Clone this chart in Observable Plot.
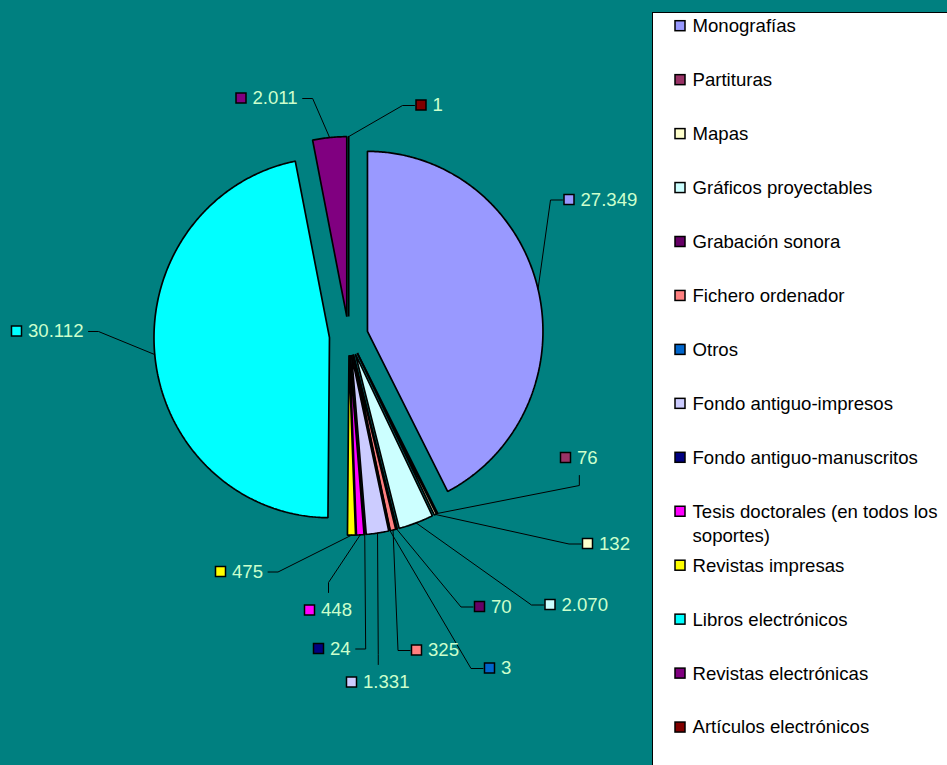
<!DOCTYPE html>
<html>
<head>
<meta charset="utf-8">
<script src="https://cdn.jsdelivr.net/npm/d3@7"></script>
<script src="https://cdn.jsdelivr.net/npm/@observablehq/plot@0.6"></script>
<style>
html, body { margin: 0; padding: 0; overflow: hidden; background: #008080; }
#chart svg { display: block; }
</style>
</head>
<body>
<div id="chart"></div>
<script>
// ---- data ----
const categories = [
  "Monografías", "Partituras", "Mapas", "Gráficos proyectables", "Grabación sonora",
  "Fichero ordenador", "Otros", "Fondo antiguo-impresos", "Fondo antiguo-manuscritos",
  "Tesis doctorales (en todos los\nsoportes)", "Revistas impresas", "Libros electrónicos",
  "Revistas electrónicas", "Artículos electrónicos"
];
const values = [27349, 76, 132, 2070, 70, 325, 3, 1331, 24, 448, 475, 30112, 2011, 1];
const colors = [
  "#9999FF", "#993366", "#FFFFCC", "#CCFFFF", "#660066",
  "#FF8080", "#0066CC", "#CCCCFF", "#000080",
  "#FF00FF", "#FFFF00", "#00FFFF",
  "#800080", "#800000"
];

// ---- label layout (swatch centre of each data label, and where its leader attaches) ----
const labelX = [569, 565.5, 587.5, 550, 479.5, 416.5, 489.5, 351.5, 318.5, 309.5, 220.5, 16.5, 241, 421];
const labelY = [199.5, 457.5, 543.5, 604.5, 606.5, 650, 668, 682, 648.5, 610, 571.5, 331, 98, 105];
const labelAttach = ["left", "bottom", "left", "left", "left", "left", "left", "top", "right", "top", "right", "right", "right", "left"];

// ---- geometry / style constants ----
const W = 947, H = 765;
const CX = 348.2, CY = 335.4, RX = 175.5, RY = 180, EXPLODE = 19.3;
const FONT = 18.6;
const FONT_FAMILY = "'Liberation Sans', Arial, Helvetica, sans-serif";
const LEGEND_BOX = {x: 652.5, y: 12.5};
const LEGEND_SWATCH_X = 680, LEGEND_TEXT_X = 692, LEGEND_Y0 = 25.7, LEGEND_STEP = 53.95;
const LEGEND_LINE_HEIGHT = 1.29;

const fmt = d3.formatLocale({decimal: ",", thousands: ".", grouping: [3], currency: ["", "€"]}).format(",d");

const arcs = d3.pie().sort(null).value(d => d)(values);

const slices = arcs.map((a, i) => {
  const mid = (a.startAngle + a.endAngle) / 2;
  const ax = CX + EXPLODE * Math.sin(mid), ay = CY - EXPLODE * Math.cos(mid);
  const span = a.endAngle - a.startAngle;
  const n = Math.max(2, Math.ceil(span / (Math.PI / 360)));
  const pts = [{x: ax, y: ay}];
  for (let k = 0; k <= n; k++) {
    const t = a.startAngle + span * k / n;
    pts.push({x: ax + RX * Math.sin(t), y: ay - RY * Math.cos(t)});
  }
  return {pts, color: colors[i], arcPt: {x: ax + RX * Math.sin(mid), y: ay - RY * Math.cos(mid)}};
});

const ctx = document.createElement("canvas").getContext("2d");
ctx.font = `${FONT}px ${FONT_FAMILY}`;

const labelData = values.map((v, i) => {
  const text = fmt(v);
  const w = ctx.measureText(text).width;
  const sx = labelX[i], sy = labelY[i];
  return {i, text, sx, sy, w, color: colors[i], left: sx - 5, right: sx + 11 + w};
});

const leaders = labelData.flatMap(d => {
  const cx = (d.left + d.right) / 2;
  let p0, p1;
  switch (labelAttach[d.i]) {
    case "left":   p0 = {x: d.sx - 7, y: d.sy};  p1 = {x: d.sx - 19, y: d.sy}; break;
    case "right":  p0 = {x: d.right + 5, y: d.sy}; p1 = {x: d.right + 15, y: d.sy}; break;
    case "top":    p0 = {x: cx, y: d.sy - 18}; p1 = {x: cx, y: d.sy - 28}; break;
    case "bottom": p0 = {x: cx, y: d.sy + 17.5}; p1 = {x: cx, y: d.sy + 27.5}; break;
  }
  return [slices[d.i].arcPt, p1, p0].map(p => ({...p, id: d.i}));
});

const legendData = categories.map((c, i) => ({
  name: c, color: colors[i], y: LEGEND_Y0 + i * LEGEND_STEP
}));
// shift so that the first line of each legend entry is centred on its swatch
const legendTextShift = (0.71 * LEGEND_LINE_HEIGHT - 0.32) * FONT;

const plot = Plot.plot({
  width: W,
  height: H,
  margin: 0,
  x: {domain: [0, W], range: [0, W], axis: null},
  y: {domain: [0, H], range: [0, H], axis: null},
  color: {type: "identity"},
  style: {background: "#008080", fontFamily: FONT_FAMILY, fontSize: `${FONT}px`, overflow: "hidden"},
  marks: [
    // pie slices
    ...slices.map(s => Plot.line(s.pts, {
      x: "x", y: "y", fill: s.color, stroke: "black", strokeWidth: 1.7,
      curve: "linear-closed", strokeLinejoin: "miter"
    })),
    // leader lines
    Plot.line(leaders, {x: "x", y: "y", z: "id", stroke: "black", strokeWidth: 1}),
    // data label swatches
    Plot.rect(labelData, {
      x1: d => d.sx - 5, x2: d => d.sx + 5, y1: d => d.sy - 5, y2: d => d.sy + 5,
      fill: "color", stroke: "black", strokeWidth: 1.5
    }),
    // data label texts
    Plot.text(labelData, {
      x: d => d.sx + 11, y: "sy", text: "text", textAnchor: "start",
      fill: "#CCFFCC", fontSize: FONT
    }),
    // legend box
    Plot.rect([0], {
      x1: LEGEND_BOX.x, x2: W + 20, y1: LEGEND_BOX.y, y2: H + 20,
      fill: "white", stroke: "black", strokeWidth: 1
    }),
    // legend swatches
    Plot.rect(legendData, {
      x1: LEGEND_SWATCH_X - 5, x2: LEGEND_SWATCH_X + 5,
      y1: d => d.y - 5, y2: d => d.y + 5,
      fill: "color", stroke: "black", strokeWidth: 1.5
    }),
    // legend texts
    Plot.text(legendData, {
      x: LEGEND_TEXT_X, y: d => d.y - legendTextShift, text: "name",
      textAnchor: "start", lineAnchor: "top", lineHeight: LEGEND_LINE_HEIGHT,
      fill: "black", fontSize: FONT
    })
  ]
});

document.getElementById("chart").appendChild(plot);
</script>
</body>
</html>
